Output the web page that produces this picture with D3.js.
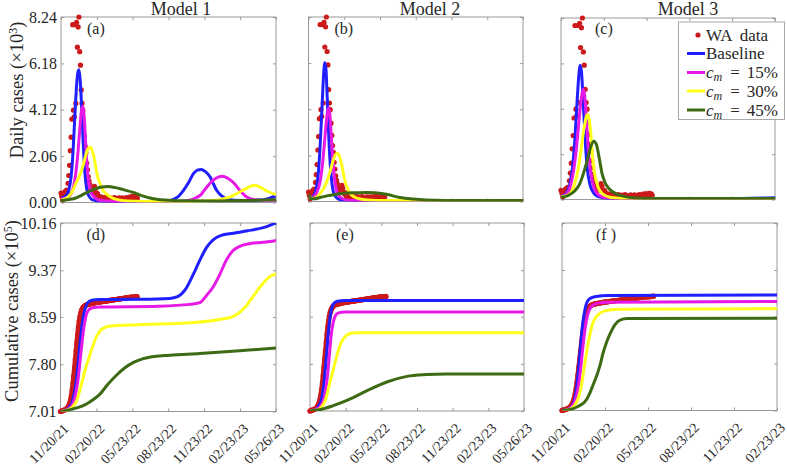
<!DOCTYPE html>
<html><head><meta charset="utf-8">
<script src="https://cdn.jsdelivr.net/npm/d3@7"></script>
<style>
body{margin:0;background:#fff}
text{font-family:"Liberation Serif","Times New Roman",serif;fill:#262626}
</style>
</head><body><svg id="chart" width="787" height="469"></svg>
<script>
// ---------------- DATA ----------------
const startDate = "11/20/21";
const tickLabelsLong = ["11/20/21","02/20/22","05/23/22","08/23/22","11/23/22","02/23/23","05/26/23"];
const tickLabelsShort = ["11/20/21","02/20/22","05/23/22","08/23/22","11/23/22","02/23/23"];
const dailyTicks = [0.00, 2.06, 4.12, 6.18, 8.24];
const cumTicks = [7.01, 7.80, 8.59, 9.37, 10.16];
const modelTitles = ["Model 1","Model 2","Model 3"];
const panelLetters = ["(a)","(b)","(c)","(d)","(e)","(f )"];
const legendLabels = ["WA data","Baseline","15%","30%","45%"];
const dataStepDays = 2;

// WA observed daily cases (x10^3), one value every 2 days from 11/20/21
const waDaily = [0.42,0.28,0.12,0.38,0.22,0.48,0.30,0.55,0.45,0.85,
  1.20,1.65,2.30,2.90,3.70,7.90,4.10,3.80,7.90,4.40,
  8.00,6.90,7.80,8.24,6.70,6.10,5.00,4.40,4.10,3.50,
  2.95,2.50,2.20,1.75,1.45,1.15,0.95,0.80,0.62,0.55,
  0.48,0.42,0.55,0.72,0.60,0.42,0.35,0.40,0.28,0.22,
  0.26,0.18,0.24,0.15,0.22,0.19,0.14,0.22,0.18,0.12,
  0.20,0.15,0.22,0.12,0.18,0.14,0.20,0.11,0.16,0.22,
  0.14,0.17,0.10,0.18,0.13,0.21,0.12,0.17,0.15,0.21,
  0.13,0.18,0.12,0.16,0.22,0.14,0.20,0.15,0.24,0.17,
  0.22,0.27,0.18,0.25,0.20,0.28,0.21,0.26,0.19];
// WA observed cumulative cases (x10^5), one value every 2 days from 11/20/21
const waCumulative = [7.010,7.015,7.020,7.025,7.030,7.035,7.040,7.050,7.060,7.075,
  7.095,7.120,7.160,7.210,7.280,7.370,7.480,7.600,7.740,7.880,
  8.020,8.160,8.300,8.420,8.520,8.600,8.660,8.700,8.730,8.750,
  8.765,8.775,8.785,8.790,8.795,8.800,8.803,8.806,8.809,8.812,
  8.815,8.818,8.821,8.824,8.827,8.830,8.832,8.834,8.836,8.838,
  8.840,8.842,8.844,8.846,8.848,8.850,8.852,8.854,8.856,8.858,
  8.860,8.862,8.864,8.866,8.868,8.870,8.872,8.874,8.876,8.878,
  8.880,8.882,8.884,8.886,8.888,8.890,8.892,8.894,8.896,8.898,
  8.900,8.902,8.904,8.906,8.908,8.910,8.912,8.914,8.916,8.918,
  8.919,8.920,8.921,8.922,8.923,8.924,8.926,8.928,8.930];

// Model curves: [day since 11/20/21, value]
// Model 1 daily (x10^3)
const m1DailyBase = [[0,0.2],[13,0.3],[20,0.55],[26,1.16],[30,2.0],[34,3.3],[37,4.3],[40,5.2],[43,5.75],[46,5.9],[49,5.5],[52,4.6],[55,3.4],[58,2.3],[61,1.4],[64,0.85],[68,0.45],[73,0.25],[80,0.13],[100,0.06],[150,0.03],[220,0.03],[260,0.05],[280,0.08],[290,0.15],[300,0.25],[314,0.53],[328,0.9],[340,1.28],[350,1.44],[360,1.47],[370,1.38],[383,1.13],[392,0.8],[400,0.53],[412,0.3],[425,0.16],[445,0.1],[480,0.08],[520,0.12],[552,0.3]];
const m1Daily15 = [[0,0.15],[15,0.2],[25,0.35],[30,0.56],[35,0.95],[40,1.6],[44,2.3],[48,3.2],[52,4.0],[55,4.28],[58,4.1],[61,3.4],[64,2.4],[67,1.6],[70,1.05],[74,0.65],[80,0.36],[90,0.18],[100,0.1],[150,0.04],[250,0.03],[300,0.05],[330,0.1],[345,0.2],[357,0.31],[374,0.68],[390,0.98],[405,1.14],[415,1.17],[428,1.08],[442,0.9],[460,0.52],[477,0.24],[495,0.13],[520,0.1],[552,0.1]];
const m1Daily30 = [[0,0.1],[15,0.2],[28,0.45],[38,0.85],[48,1.2],[56,1.6],[62,2.0],[68,2.35],[76,2.45],[82,2.2],[86,1.9],[90,1.5],[94,1.16],[100,0.85],[107,0.56],[115,0.4],[125,0.27],[140,0.15],[170,0.07],[250,0.04],[350,0.06],[400,0.1],[420,0.18],[442,0.31],[460,0.48],[477,0.64],[498,0.77],[511,0.68],[530,0.5],[552,0.34]];
const m1Daily45 = [[0,0.08],[20,0.13],[38,0.2],[57,0.36],[73,0.5],[90,0.62],[105,0.69],[120,0.71],[140,0.66],[160,0.57],[185,0.45],[205,0.32],[228,0.2],[255,0.12],[300,0.08],[400,0.07],[480,0.09],[552,0.12]];
// Model 2 daily (x10^3)
const m2DailyBase = [[0,0.25],[5,0.15],[12,0.22],[20,0.6],[25,1.2],[30,2.5],[35,4.3],[39,5.7],[42,6.2],[45,5.9],[48,4.7],[51,3.4],[54,2.2],[58,1.2],[62,0.6],[67,0.3],[75,0.13],[90,0.06],[120,0.04],[552,0.03]];
const m2Daily15 = [[0,0.2],[8,0.15],[20,0.35],[30,0.9],[35,1.5],[40,2.4],[45,3.4],[49,4.0],[52,4.19],[55,3.9],[58,3.1],[62,2.0],[66,1.15],[70,0.65],[76,0.32],[85,0.15],[100,0.06],[150,0.03],[552,0.03]];
const m2Daily30 = [[0,0.15],[15,0.15],[30,0.35],[45,0.8],[55,1.3],[62,1.75],[68,2.05],[74,2.15],[80,2.0],[86,1.6],[92,1.05],[100,0.6],[110,0.3],[125,0.15],[150,0.07],[200,0.04],[552,0.03]];
const m2Daily45 = [[0,0.35],[4,0.12],[15,0.12],[30,0.18],[47,0.25],[70,0.32],[90,0.37],[120,0.39],[150,0.4],[170,0.39],[200,0.32],[235,0.18],[270,0.11],[303,0.07],[350,0.05],[552,0.04]];
// Model 3 daily (x10^3)
const m3DailyBase = [[0,0.15],[10,0.25],[20,0.8],[25,1.5],[30,2.8],[35,4.6],[39,5.8],[41,6.1],[44,5.8],[48,4.3],[52,2.7],[56,1.5],[62,0.7],[70,0.3],[80,0.13],[100,0.05],[200,0.03],[350,0.04],[460,0.08]];
const m3Daily15 = [[0,0.15],[10,0.22],[20,0.6],[27,1.3],[32,2.1],[37,3.2],[42,4.3],[46,4.9],[48,5.0],[51,4.7],[55,3.5],[59,2.2],[64,1.2],[70,0.6],[80,0.22],[95,0.08],[120,0.04],[460,0.04]];
const m3Daily30 = [[0,0.12],[15,0.2],[25,0.45],[32,0.9],[38,1.5],[44,2.4],[50,3.3],[55,3.8],[57,3.86],[60,3.7],[64,3.0],[68,1.9],[73,1.1],[80,0.55],[90,0.25],[105,0.1],[130,0.05],[460,0.04]];
const m3Daily45 = [[0,0.1],[15,0.18],[30,0.4],[40,0.7],[50,1.3],[58,1.9],[64,2.4],[70,2.65],[76,2.5],[82,1.9],[88,1.2],[95,0.75],[105,0.45],[120,0.25],[140,0.12],[170,0.06],[220,0.04],[460,0.04]];
// Model 1 cumulative (x10^5)
const m1CumBase = [[0,7.01],[15,7.04],[25,7.1],[30,7.17],[35,7.3],[40,7.5],[45,7.8],[50,8.15],[55,8.45],[60,8.65],[65,8.77],[70,8.83],[80,8.87],[100,8.88],[200,8.885],[280,8.9],[300,8.93],[320,9.05],[340,9.3],[357,9.54],[375,9.76],[391,9.88],[410,9.95],[443,9.99],[480,10.03],[528,10.1],[552,10.16]];
const m1Cum15 = [[0,7.01],[20,7.05],[30,7.12],[35,7.2],[40,7.34],[45,7.55],[50,7.85],[55,8.15],[60,8.42],[65,8.6],[70,8.69],[80,8.74],[100,8.755],[250,8.77],[330,8.8],[357,8.83],[374,8.95],[391,9.09],[408,9.3],[425,9.54],[442,9.7],[459,9.77],[490,9.82],[536,9.85],[552,9.87]];
const m1Cum30 = [[0,7.01],[20,7.04],[30,7.08],[42,7.2],[55,7.5],[65,7.75],[71,7.87],[80,8.05],[92,8.26],[105,8.38],[127,8.44],[200,8.46],[350,8.5],[410,8.55],[443,8.6],[470,8.73],[493,8.93],[515,9.12],[535,9.26],[552,9.31]];
const m1Cum45 = [[0,7.01],[30,7.05],[55,7.1],[75,7.17],[101,7.3],[122,7.47],[144,7.62],[165,7.74],[187,7.83],[210,7.89],[240,7.93],[280,7.95],[357,7.98],[450,8.02],[552,8.07]];
// Model 2 cumulative (x10^5)
const m2CumBase = [[0,7.01],[15,7.04],[25,7.12],[30,7.22],[35,7.42],[40,7.75],[45,8.15],[50,8.5],[55,8.7],[60,8.8],[70,8.85],[90,8.86],[552,8.86]];
const m2Cum15 = [[0,7.01],[20,7.05],[30,7.12],[35,7.2],[40,7.35],[45,7.6],[50,7.95],[55,8.3],[60,8.5],[65,8.6],[72,8.65],[90,8.67],[552,8.67]];
const m2Cum30 = [[0,7.01],[20,7.03],[30,7.08],[40,7.2],[50,7.45],[60,7.7],[70,7.95],[80,8.15],[90,8.25],[100,8.3],[120,8.32],[552,8.32]];
const m2Cum45 = [[0,7.01],[30,7.04],[60,7.1],[100,7.2],[150,7.36],[200,7.5],[250,7.59],[300,7.62],[350,7.63],[552,7.63]];
// Model 3 cumulative (x10^5)
const m3CumBase = [[0,7.01],[15,7.04],[22,7.1],[27,7.2],[32,7.45],[37,7.85],[42,8.3],[47,8.62],[52,8.8],[58,8.88],[70,8.92],[100,8.94],[460,8.95]];
const m3Cum15 = [[0,7.01],[15,7.04],[25,7.12],[30,7.22],[35,7.42],[40,7.72],[45,8.1],[50,8.42],[55,8.62],[62,8.75],[75,8.81],[100,8.83],[460,8.84]];
const m3Cum30 = [[0,7.01],[15,7.03],[25,7.08],[35,7.22],[42,7.45],[48,7.75],[54,8.05],[60,8.3],[66,8.48],[75,8.6],[90,8.68],[120,8.71],[460,8.72]];
const m3Cum45 = [[0,7.01],[20,7.03],[35,7.08],[53,7.2],[60,7.31],[67,7.45],[74,7.59],[81,7.76],[88,7.98],[95,8.15],[103,8.3],[113,8.45],[124,8.53],[140,8.555],[460,8.56]];

// ---------------- STYLE / LAYOUT ----------------
const colors = {data:"#cc1a1a", base:"#1f1fff", m15:"#e619e6", m30:"#ffff1a", m45:"#3d6b14"};
const axisColor = "#9a9a9a";

const svg = d3.select("#chart");
svg.append("rect").attr("width",787).attr("height",469).attr("fill","#fff");

const parse = d3.utcParse("%m/%d/%y");
const t0 = parse(startDate);
const dayToDate = d => d3.utcDay.offset(t0, d);

const panels = [
  {box:[61,276,17,202.5], ticks:tickLabelsLong, yt:dailyTicks, curves:[m1DailyBase,m1Daily15,m1Daily30,m1Daily45], obs:waDaily, mode:"daily", ylabels:true, xlabels:false, letter:0, title:0},
  {box:[308.5,523,17,201.5], ticks:tickLabelsLong, yt:dailyTicks, curves:[m2DailyBase,m2Daily15,m2Daily30,m2Daily45], obs:waDaily, mode:"daily", ylabels:false, xlabels:false, letter:1, title:1},
  {box:[561,775,18,199.5], ticks:tickLabelsShort, yt:dailyTicks, curves:[m3DailyBase,m3Daily15,m3Daily30,m3Daily45], obs:waDaily, mode:"daily", ylabels:false, xlabels:false, letter:2, title:2, legend:true},
  {box:[60.5,276,223,411.5], ticks:tickLabelsLong, yt:cumTicks, curves:[m1CumBase,m1Cum15,m1Cum30,m1Cum45], obs:waCumulative, mode:"cum", ylabels:true, xlabels:true, letter:3},
  {box:[310,524,223,411], ticks:tickLabelsLong, yt:cumTicks, curves:[m2CumBase,m2Cum15,m2Cum30,m2Cum45], obs:waCumulative, mode:"cum", ylabels:false, xlabels:true, letter:4},
  {box:[562,777,223,410.5], ticks:tickLabelsShort, yt:cumTicks, curves:[m3CumBase,m3Cum15,m3Cum30,m3Cum45], obs:waCumulative, mode:"cum", ylabels:false, xlabels:true, letter:5}
];
const titleX = [181, 430, 688];
const letterOffset = [26, 26, 34];
const curveColors = [colors.base, colors.m15, colors.m30, colors.m45];

panels.forEach((p, pi) => {
  const [x0,x1,y0,y1] = p.box;
  const tickDates = p.ticks.map(parse);
  const x = d3.scaleUtc().domain([tickDates[0], tickDates[tickDates.length-1]]).range([x0,x1]);
  const y = d3.scaleLinear().domain([p.yt[0], p.yt[p.yt.length-1]]).range([y1,y0]);
  const g = svg.append("g");

  const cid = "clip"+pi;
  svg.append("clipPath").attr("id",cid).append("rect").attr("x",x0).attr("y",y0).attr("width",x1-x0).attr("height",y1-y0);

  const mk = (axis, tr) => {
    const a = g.append("g").attr("transform",tr).call(axis);
    a.select(".domain").remove();
    a.selectAll(".tick line").attr("stroke",axisColor);
    a.selectAll(".tick text").remove();
  };
  mk(d3.axisBottom(x).tickValues(tickDates).tickSizeInner(-3).tickSizeOuter(0), `translate(0,${y1})`);
  mk(d3.axisTop(x).tickValues(tickDates).tickSizeInner(-3).tickSizeOuter(0), `translate(0,${y0})`);
  mk(d3.axisLeft(y).tickValues(p.yt).tickSizeInner(-3).tickSizeOuter(0), `translate(${x0},0)`);
  mk(d3.axisRight(y).tickValues(p.yt).tickSizeInner(-3).tickSizeOuter(0), `translate(${x1},0)`);
  g.append("rect").attr("x",x0).attr("y",y0).attr("width",x1-x0).attr("height",y1-y0)
    .attr("fill","none").attr("stroke",axisColor).attr("stroke-width",1);

  if (p.ylabels) {
    g.selectAll(".yl").data(p.yt).join("text")
      .attr("x", x0-4).attr("y", d=>y(d)).attr("dy","0.35em")
      .attr("text-anchor","end").style("font-size","16px")
      .text(d=>d.toFixed(2));
  }
  if (p.xlabels) {
    g.selectAll(".xl").data(p.ticks).join("text")
      .attr("transform", d=>`translate(${x(parse(d))+9},${y1+18}) rotate(-45)`)
      .attr("text-anchor","end").style("font-size","14px")
      .text(d=>d);
  }

  const obsPts = p.obs.map((v,i)=>[dayToDate(i*dataStepDays), v]);
  if (p.mode==="cum") {
    g.append("path").datum(obsPts)
      .attr("d", d3.line().x(d=>x(d[0])).y(d=>y(d[1])))
      .attr("fill","none").attr("stroke",colors.data).attr("stroke-width",5)
      .attr("stroke-linecap","round").attr("stroke-linejoin","round");
  }
  g.selectAll(".pt").data(obsPts).join("circle")
    .attr("cx",d=>x(d[0])).attr("cy",d=>y(d[1])).attr("r",2.6)
    .attr("fill",colors.data);

  const line = d3.line().x(d=>x(dayToDate(d[0]))).y(d=>y(d[1])).curve(d3.curveMonotoneX);
  const cg = g.append("g").attr("clip-path",`url(#${cid})`);
  p.curves.forEach((c,ci)=>{
    cg.append("path").datum(c).attr("d",line)
      .attr("fill","none").attr("stroke",curveColors[ci]).attr("stroke-width",3)
      .attr("stroke-linejoin","round");
  });

  g.append("text").attr("x", x0 + letterOffset[pi%3])
    .attr("y", p.mode==="daily" ? 34 : 240)
    .style("font-size","16px").text(panelLetters[p.letter]);

  if (p.title!==undefined) {
    svg.append("text").attr("x", titleX[p.title]).attr("y", 15)
      .attr("text-anchor","middle").style("font-size","18px").text(modelTitles[p.title]);
  }

  if (p.legend) {
    const lg = svg.append("g");
    lg.append("rect").attr("x",678.5).attr("y",22).attr("width",106).attr("height",97.5)
      .attr("fill","#fff").attr("stroke","#a8a8a8").attr("stroke-width",1);
    const rows = [35, 53.5, 72.5, 91, 110];
    legendLabels.forEach((lab,i)=>{
      const ry = rows[i];
      if (i===0) {
        lg.append("circle").attr("cx",698).attr("cy",ry).attr("r",2.6).attr("fill",colors.data);
      } else {
        lg.append("line").attr("x1",687).attr("x2",705).attr("y1",ry).attr("y2",ry)
          .attr("stroke",curveColors[i-1]).attr("stroke-width",3);
      }
      const t = lg.append("text").attr("x",706).attr("y",ry).attr("dy","0.33em").style("font-size","17px");
      if (i===0) t.style("word-spacing","4px").text(lab);
      else if (i===1) t.text(lab);
      else {
        t.append("tspan").style("font-style","italic").text("c");
        t.append("tspan").style("font-style","italic").style("font-size","12px").attr("dy","3").text("m");
        t.append("tspan").attr("dy","-3").attr("dx","8").text("=");
        t.append("tspan").attr("dx","7").text(lab);
      }
    });
  }
});

// y-axis labels
const yl1 = svg.append("text").attr("transform","translate(23,90) rotate(-90)").attr("text-anchor","middle").style("font-size","18.5px");
yl1.append("tspan").text("Daily cases (×10");
yl1.append("tspan").attr("dy","-6").style("font-size","12px").text("3");
yl1.append("tspan").attr("dy","6").text(")");
const yl2 = svg.append("text").attr("transform","translate(17.5,311) rotate(-90)").attr("text-anchor","middle").style("font-size","18.5px");
yl2.append("tspan").text("Cumulative cases (×10");
yl2.append("tspan").attr("dy","-6").style("font-size","12px").text("5");
yl2.append("tspan").attr("dy","6").text(")");
</script>
</body></html>
